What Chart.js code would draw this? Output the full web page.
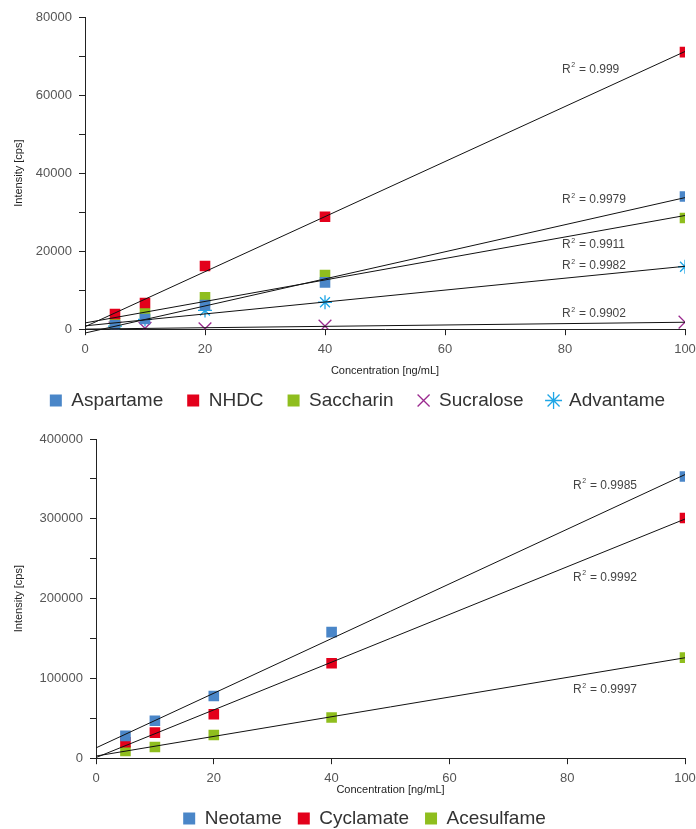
<!DOCTYPE html>
<html>
<head>
<meta charset="utf-8">
<script src="https://cdn.jsdelivr.net/npm/chart.js@4.4.1/dist/chart.umd.min.js"></script>
<style>
  html, body { margin: 0; padding: 0; background: #fff; overflow: hidden; }
  #top { position: absolute; left: 0; top: 0; width: 696px; height: 431px; }
  #bottom { position: absolute; left: 0; top: 420px; width: 696px; height: 424px; }
</style>
</head>
<body>
<div id="top"><canvas id="sweetTop"></canvas></div>
<div id="bottom"><canvas id="sweetBottom"></canvas></div>
<script>
// concentrations (ng/mL)
const conc = [5, 10, 20, 40, 100]

// top chart, intensity (cps)
const aspartame = [1000, 2600, 6200, 12000, 34000]
const nhdc = [3900, 6700, 16200, 28800, 71000]
const saccharin = [1500, 4100, 8200, 13900, 28500]
const sucralose = [300, 200, 100, 800, 1800]
const advantame = [800, 2500, 4800, 6900, 16000]
const topR2 = ['0.9979', '0.999', '0.9911', '0.9902', '0.9982']

// bottom chart, intensity (cps)
const neotame = [28000, 47000, 78000, 158000, 353000]
const cyclamate = [20000, 32000, 55000, 119000, 301000]
const acesulfame = [9000, 14000, 29000, 51000, 126000]
const bottomR2 = ['0.9985', '0.9992', '0.9997']

// where the R² notes sit, in data units
const topR2At = [[79.5, 33200], [79.5, 66600], [79.5, 21600], [79.5, 3860], [79.5, 16200]]
const bottomR2At = [[81, 342000], [81, 226400], [81, 85500]]

const FONT = "'Liberation Sans', Arial, sans-serif"
const BLUE = '#4a86c8'
const RED = '#e3001b'
const GREEN = '#8fbe1e'
const PURPLE = '#9b2b8f'
const SKY = '#1ea6e6'

const points = (ys) => conc.map((x, i) => ({ x, y: ys[i] }))

// least squares trendline, drawn from 0 to 100
const fitLine = (ys) => {
    const n = conc.length
    const mx = conc.reduce((a, b) => a + b, 0) / n
    const my = ys.reduce((a, b) => a + b, 0) / n
    let sxy = 0, sxx = 0
    conc.forEach((x, i) => {
        sxy += (x - mx) * (ys[i] - my)
        sxx += (x - mx) * (x - mx)
    })
    const m = sxy / sxx
    const b = my - m * mx
    return [{ x: 0, y: b }, { x: 100, y: b + m * 100 }]
}

const scatterSet = (label, ys, color, style, radius) => ({
    type: 'scatter',
    label,
    data: points(ys),
    pointStyle: style,
    pointRadius: radius,
    pointHoverRadius: radius,
    backgroundColor: color,
    borderColor: color,
    borderWidth: style === 'rect' ? 0 : 1.3,
    order: 2
})

const trendSet = (ys) => ({
    type: 'line',
    label: '_trend',
    data: fitLine(ys),
    borderColor: '#111',
    borderWidth: 1,
    pointRadius: 0,
    fill: false,
    clip: false,
    order: 1
})

const r2Notes = {
    id: 'r2Notes',
    afterDatasetsDraw(chart, args, opts) {
        const { ctx, scales } = chart
        ctx.save()
        ctx.fillStyle = '#444'
        ctx.textBaseline = 'middle'
        opts.values.forEach((v, i) => {
            let x = scales.x.getPixelForValue(opts.at[i][0])
            const y = scales.y.getPixelForValue(opts.at[i][1])
            ctx.font = '12px ' + FONT
            ctx.fillText('R', x, y)
            x += ctx.measureText('R').width
            ctx.font = '7px ' + FONT
            ctx.fillText('2', x + 0.5, y - 4)
            x += ctx.measureText('2').width + 1
            ctx.font = '12px ' + FONT
            ctx.fillText(' = ' + v, x, y)
        })
        ctx.restore()
    }
}

// nudges the legend block after layout
const legendShift = {
    id: 'legendShift',
    afterLayout(chart, args, opts) {
        const lg = chart.legend
        lg.left += opts.dx
        lg.right += opts.dx
        lg.top += opts.dy
        lg.bottom += opts.dy
    }
}

const buildOptions = ({ yMax, yStep, yLabelStep, yWidth, r2, r2At, pad, legendBox, legendPad, titlePad, shift }) => ({
    responsive: true,
    maintainAspectRatio: false,
    animation: false,
    layout: { padding: pad },
    plugins: {
        tooltip: { enabled: false },
        legend: {
            position: 'bottom',
            labels: {
                filter: (item) => item.text !== '_trend',
                usePointStyle: true,
                boxWidth: legendBox,
                boxHeight: 12,
                padding: legendPad,
                color: '#333',
                font: { family: FONT, size: 19 }
            }
        },
        r2Notes: { values: r2, at: r2At },
        legendShift: shift
    },
    scales: {
        x: {
            type: 'linear',
            min: 0,
            max: 100,
            afterFit: (scale) => { scale.paddingRight = 0 },
            border: { display: true, color: '#222', width: 1 },
            grid: { drawOnChartArea: false, drawTicks: true, tickLength: 6, color: '#222' },
            ticks: { stepSize: 20, color: '#555', padding: 6, font: { family: FONT, size: 13 } },
            title: {
                display: true,
                text: 'Concentration [ng/mL]',
                color: '#222',
                padding: titlePad,
                font: { family: FONT, size: 11 }
            }
        },
        y: {
            type: 'linear',
            min: 0,
            max: yMax,
            afterFit: (scale) => { scale.width = yWidth },
            border: { display: true, color: '#222', width: 1 },
            grid: { drawOnChartArea: false, drawTicks: true, tickLength: 6, color: '#222' },
            ticks: {
                stepSize: yStep,
                color: '#555',
                padding: 7,
                font: { family: FONT, size: 13 },
                callback: (v) => (v % yLabelStep === 0 ? String(v) : '')
            },
            title: {
                display: true,
                text: 'Intensity [cps]',
                color: '#222',
                padding: { top: 12, bottom: 0 },
                font: { family: FONT, size: 11 }
            }
        }
    }
})

new Chart(document.getElementById('sweetTop'), {
    data: {
        datasets: [
            trendSet(aspartame), trendSet(nhdc), trendSet(saccharin), trendSet(sucralose), trendSet(advantame),
            scatterSet('Aspartame', aspartame, BLUE, 'rect', 7.5),
            scatterSet('NHDC', nhdc, RED, 'rect', 7.5),
            scatterSet('Saccharin', saccharin, GREEN, 'rect', 7.5),
            scatterSet('Sucralose', sucralose, PURPLE, 'crossRot', 9),
            scatterSet('Advantame', advantame, SKY, 'star', 7)
        ]
    },
    options: buildOptions({
        yMax: 80000, yStep: 10000, yLabelStep: 20000, yWidth: 85,
        r2: topR2, r2At: topR2At,
        pad: { top: 17, right: 11, bottom: 0, left: 0 },
        legendBox: 12, legendPad: 24, titlePad: { top: 2, bottom: 0 },
        shift: { dx: 15, dy: -11 }
    }),
    plugins: [r2Notes, legendShift]
})

new Chart(document.getElementById('sweetBottom'), {
    data: {
        datasets: [
            trendSet(neotame), trendSet(cyclamate), trendSet(acesulfame),
            scatterSet('Neotame', neotame, BLUE, 'rect', 7.5),
            scatterSet('Cyclamate', cyclamate, RED, 'rect', 7.5),
            scatterSet('Acesulfame', acesulfame, GREEN, 'rect', 7.5)
        ]
    },
    options: buildOptions({
        yMax: 400000, yStep: 50000, yLabelStep: 100000, yWidth: 96,
        r2: bottomR2, r2At: bottomR2At,
        pad: { top: 19, right: 11, bottom: 0, left: 0 },
        legendBox: 12, legendPad: 16, titlePad: { top: -8, bottom: 2 },
        shift: { dx: 22, dy: -6 }
    }),
    plugins: [r2Notes, legendShift]
})
</script>
</body>
</html>
